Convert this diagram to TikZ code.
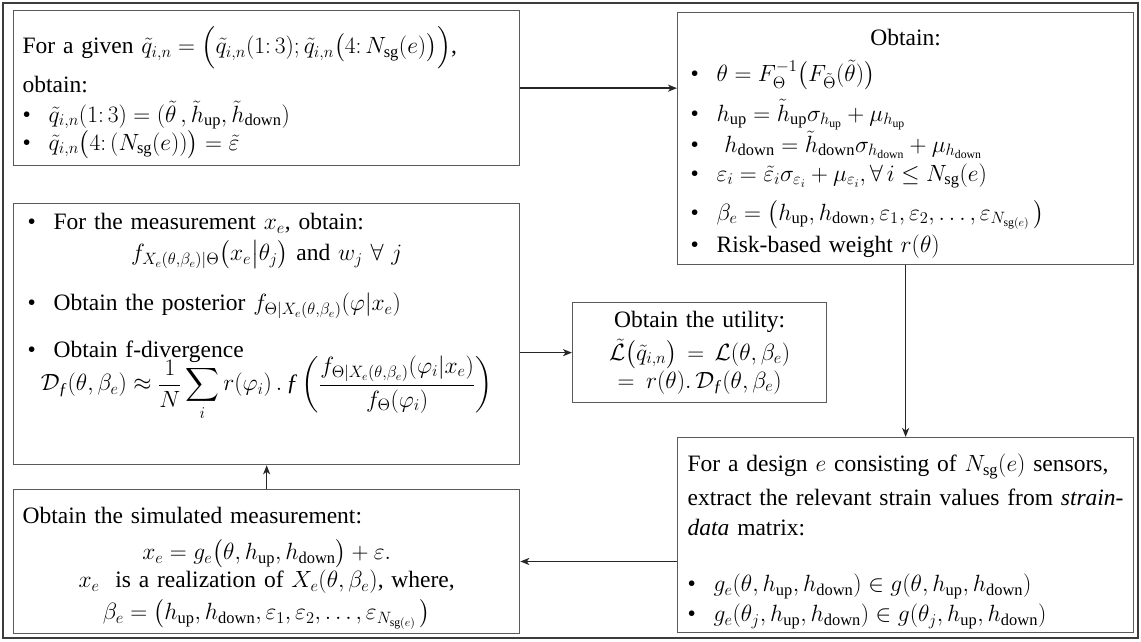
\RequirePackage{fix-cm}
\documentclass[tikz,border=0pt]{standalone}
\usepackage{amsmath}
\usepackage{amssymb}
\usepackage{fontspec}
\setmainfont{Liberation Serif}
\usepackage{tikz}
\usetikzlibrary{arrows.meta}
\definecolor{boxborder}{RGB}{90,90,90}
\definecolor{frameborder}{RGB}{60,60,60}
\newcommand{\oedfont}{\fontsize{23.5}{28}\selectfont}
\newcommand{\bul}{\makebox[26pt][l]{\textbullet}}
\newcommand{\oedctr}[1]{\makebox[\linewidth]{#1}}
\newcommand{\oedtop}[1]{\rule{0pt}{#1}}
\newcommand{\oedbot}[1]{\rule[-#1]{0pt}{#1}}
\newcommand{\fdiv}{\text{\itshape ƒ}}
\newcommand{\hup}{h_{\mathrm{up}}}
\newcommand{\hdown}{h_{\mathrm{down}}}
\newcommand{\Nsg}{N_{\mathrm{sg}}(e)}
\tikzset{
  oedbox/.style = {rectangle, draw=boxborder, line width=1.3pt, anchor=north west,
                   inner xsep=9pt, inner ysep=4pt, align=left, font=\oedfont},
  oedarrow/.style = {-{Stealth[length=9pt, width=7pt, inset=2.5pt]}, line width=1.6pt, draw=black!85},
  oedframe/.style = {draw=frameborder, line width=1.2pt}
}
\begin{document}
\begin{tikzpicture}[x=1pt, y=-1pt]
\useasboundingbox (0,0) rectangle (1141,641);
\draw[oedframe] (3,3) rectangle (1138,638);

\node[oedbox, text width=488pt, minimum height=155pt] (given) at (13,10) {%
\oedtop{36pt}For a given $\tilde q_{i,n} = \Bigl(\tilde q_{i,n}(1{:}\,3); \tilde q_{i,n}\bigl(4{:}\,\Nsg\bigr)\Bigr)$,\\[6pt]
obtain:\\[2pt]
\bul$\tilde q_{i,n}(1{:}\,3) = (\tilde\theta\,, \tilde h_{\mathrm{up}}, \tilde h_{\mathrm{down}})$\\
\bul$\tilde q_{i,n}\bigl(4{:}\,(\Nsg)\bigr) = \tilde\varepsilon$};

\node[oedbox, inner xsep=13pt, text width=430pt, minimum height=252pt] (obtain) at (677,12) {%
\oedctr{\oedtop{26pt}Obtain:}\\[8pt]
\bul$\theta = F_{\Theta}^{-1}\bigl(F_{\tilde\Theta}(\tilde\theta)\bigr)$\\[9pt]
\bul$\hup = \tilde h_{\mathrm{up}}\sigma_{\hup} + \mu_{\hup}$\\[0pt]
\bul\ $\hdown = \tilde h_{\mathrm{down}}\sigma_{\hdown} + \mu_{\hdown}$\\[1pt]
\bul$\varepsilon_i = \tilde\varepsilon_i\sigma_{\varepsilon_i} + \mu_{\varepsilon_i}, \forall\, i \le \Nsg$\\[11pt]
\bul$\beta_e = \bigl(\hup, \hdown, \varepsilon_1, \varepsilon_2, \dots, \varepsilon_{N_{\mathrm{sg}(e)}}\,\bigr)$\\[4pt]
\bul Risk-based weight $r(\theta)$};

\node[oedbox, inner xsep=14pt, text width=478pt, minimum height=261pt] (posterior) at (13,203) {%
\bul For the measurement $x_e$, obtain:\\[3pt]
\oedctr{$f_{X_e(\theta,\beta_e)|\Theta}\bigl(x_e\big|\theta_j\bigr)$ and $w_j\ \forall\ j$}\\[22pt]
\bul Obtain the posterior $f_{\Theta|X_e(\theta,\beta_e)}(\varphi|x_e)$\\[19pt]
\bul Obtain f-divergence\\[-8pt]
\oedctr{$\displaystyle \mathcal{D}_{\fdiv}(\theta,\beta_e) \approx \frac{1}{N}\sum_i r(\varphi_i)\,.\,\fdiv\left(\frac{f_{\Theta|X_e(\theta,\beta_e)}(\varphi_i|x_e)}{f_\Theta(\varphi_i)}\right)$\oedbot{64pt}}};

\node[oedbox, text width=236pt, minimum height=100pt, align=center] (utility) at (572,302) {%
Obtain the utility:\\[5pt]
$\tilde{\mathcal{L}}\bigl(\tilde q_{i,n}\bigr) = \mathcal{L}(\theta,\beta_e)$\\
$= r(\theta).\,\mathcal{D}_{\fdiv}(\theta,\beta_e)$};

\node[oedbox, inner xsep=10pt, text width=436pt, minimum height=191pt] (design) at (677,437) {%
\oedtop{30pt}For a design $e$ consisting of $\Nsg$ sensors,\\[6pt]
extract the relevant strain values from \textit{strain-}\\[2pt]
\textit{data} matrix:\\[28pt]
\bul$g_e(\theta,\hup,\hdown) \in g(\theta,\hup,\hdown)$\\[2pt]
\bul$g_e(\theta_j,\hup,\hdown) \in g(\theta_j,\hup,\hdown)$};

\node[oedbox, text width=488pt, minimum height=139pt] (simulate) at (13,489) {%
\oedtop{30pt}Obtain the simulated measurement:\\[8pt]
\oedctr{$x_e = g_e\bigl(\theta,\hup,\hdown\bigr) + \varepsilon.$}\\
\oedctr{$x_e$\ \ is a realization of $X_e(\theta,\beta_e)$, where,}\\[4pt]
\oedctr{$\beta_e = \bigl(\hup,\hdown,\varepsilon_1,\varepsilon_2,\dots,\varepsilon_{N_{\mathrm{sg}(e)}}\,\bigr)$}};

\draw[oedarrow] (given.east) -- (given.east -| obtain.west);
\draw[oedarrow] (obtain.south) -- (design.north);
\draw[oedarrow] (design.west |- simulate.east) -- (simulate.east);
\draw[oedarrow] (simulate.north) -- (posterior.south);
\draw[oedarrow] (posterior.east |- utility.west) -- (utility.west);
\end{tikzpicture}
\end{document}
